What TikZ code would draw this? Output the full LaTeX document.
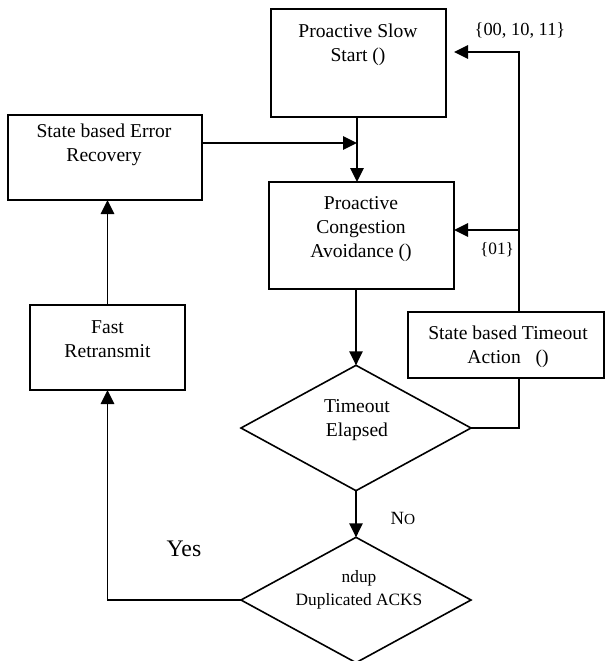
\documentclass[tikz,border=0pt]{standalone}
\usepackage{fontspec}
\setmainfont{Liberation Serif}
\usetikzlibrary{arrows.meta,shapes.geometric,fit}
\begin{document}
\begin{tikzpicture}[x=0.75pt,y=-0.75pt,
  box/.style={draw,line width=1.3pt,inner sep=0pt,outer sep=0pt},
  dia/.style={draw,diamond,line width=1.2pt,inner sep=0pt,outer sep=0pt,minimum width=172.5pt,minimum height=94pt},
  txt/.style={align=center,inner sep=0pt,font=\fontsize{14.7}{18}\selectfont},
  stxt/.style={align=center,inner sep=0pt,font=\fontsize{13}{17.5}\selectfont},
  conn/.style={line width=1.3pt},
  arr/.style={line width=1.3pt,-{Triangle[width=10pt,length=10.5pt]}}]
\useasboundingbox (0,0) rectangle (605,661);
% boxes
\node[box,fit={(271,9) (446,117)}] (ss) {};
\node[box,fit={(8,115) (202,200)}] (sber) {};
\node[box,fit={(269,182) (454,289)}] (ca) {};
\node[box,fit={(408,312) (604,378)}] (ta) {};
\node[box,fit={(30,305) (185,390)}] (fr) {};
\node[dia] (te) at (356,428) {};
\node[dia] (nd) at (356,600) {};
% texts
\node[txt] (sst) at (358,45) {Proactive Slow\\Start ()};
\node[txt] (sbert) at (104,145) {State based Error\\Recovery};
\node[txt] (cat) at (361,229) {Proactive\\Congestion\\Avoidance ()};
\node[txt] (tat) at (508,347) {State based Timeout\\Action\ \ \ ()};
\node[txt] (frt) at (107.5,339) {Fast\\Retransmit};
\node[txt] (tet) at (357,420) {Timeout\\Elapsed};
\node[stxt] (ndt) at (359,589.5) {ndup\\Duplicated ACKS};
% labels
\node[inner sep=0pt,font=\fontsize{13.8}{16}\selectfont] (l1) at (520,31) {\{00, 10, 11\}};
\node[inner sep=0pt,font=\fontsize{13}{16}\selectfont] (l2) at (497,250) {\{01\}};
\node[inner sep=0pt,font=\fontsize{14}{16}\selectfont] (lno) at (403,518) {N{\fontsize{11.5}{14}\selectfont O}};
\node[inner sep=0pt,font=\fontsize{17.8}{20}\selectfont] (lyes) at (184,549) {Yes};
% junction coordinates
\coordinate (tr) at (519,52);
\coordinate (ssin) at (454,52);
\coordinate (cain) at (519,230);
\coordinate (j1) at (357,143);
% connectors
\draw[arr] (ta.north -| tr) |- (ssin);
\draw[arr] (cain) -- (ca.east |- cain);
\draw[arr] (ss.south -| j1) -- (ca.north -| j1);
\draw[arr] (sber.east |- j1) -- (j1);
\draw[arr] (ca.south -| te.north) -- (te.north);
\draw[arr] (te.south) -- (nd.north);
\draw[conn] (te.east) -| (ta.south -| tr);
\draw[arr] (nd.west) -| (fr.south);
\draw[arr] (fr.north) -- (sber.south -| fr.north);
\end{tikzpicture}
\end{document}
